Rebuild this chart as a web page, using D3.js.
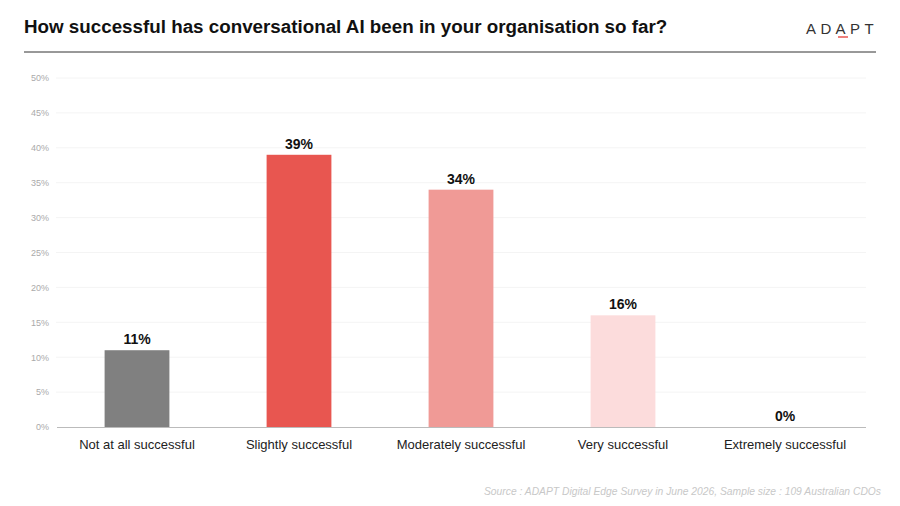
<!DOCTYPE html>
<html>
<head>
<meta charset="utf-8">
<script src="https://cdn.jsdelivr.net/npm/d3@7"></script>
<style>
  body { margin: 0; background: #fff; }
  text { font-family: "Liberation Sans", Arial, sans-serif; }
</style>
</head>
<body>
<div id="viz"></div>
<script>
var categories = ["Not at all successful", "Slightly successful", "Moderately successful", "Very successful", "Extremely successful"];
var values = [11, 39, 34, 16, 0];
var barColors = ["#808080", "#e85650", "#f09a96", "#fcdcdc", "#f4f4f4"];
var yTicks = [0, 5, 10, 15, 20, 25, 30, 35, 40, 45, 50];

var w = 900, h = 506;

var svg = d3.select('#viz')
            .append('svg')
            .attr('width', w)
            .attr('height', h);

// title + logo
svg.append('text')
   .attr('x', 24)
   .attr('y', 33)
   .style('font-size', '18.8px')
   .style('font-weight', 'bold')
   .style('fill', '#111')
   .text('How successful has conversational AI been in your organisation so far?');

svg.append('text')
   .attr('x', 878)
   .attr('y', 34)
   .attr('text-anchor', 'end')
   .style('font-size', '15px')
   .style('letter-spacing', '4.4px')
   .style('fill', '#333')
   .text('ADAPT');

svg.append('line')
   .attr('x1', 838).attr('x2', 848)
   .attr('y1', 37).attr('y2', 37)
   .attr('stroke', '#e85650')
   .attr('stroke-width', 1.5);

svg.append('line')
   .attr('x1', 24).attr('x2', 876)
   .attr('y1', 52).attr('y2', 52)
   .attr('stroke', '#333')
   .attr('stroke-width', 1);

var x = d3.scaleBand()
          .domain(categories)
          .range([56, 866])
          .paddingInner(0.6)
          .paddingOuter(0.3);

var y = d3.scaleLinear()
          .domain([0, 50])
          .range([427, 78]);

// gridlines
svg.append('g')
   .selectAll('line')
   .data(yTicks.filter(d => d > 0))
   .enter()
   .append('line')
   .attr('x1', 56).attr('x2', 866)
   .attr('y1', d => y(d)).attr('y2', d => y(d))
   .attr('stroke', '#f4f4f4')
   .attr('stroke-width', 1);

var yAxis = svg.append('g')
   .attr('transform', 'translate(52,0)')
   .call(d3.axisLeft(y).tickValues(yTicks).tickSize(0).tickFormat(d => d + '%'));
yAxis.select('.domain').remove();
yAxis.selectAll('text')
     .style('font-size', '9px')
     .style('fill', '#aaa')
     .style('font-family', '"Liberation Sans", Arial, sans-serif');

svg.selectAll('rect.bar')
   .data(values)
   .enter()
   .append('rect')
   .attr('class', 'bar')
   .attr('x', (d, i) => x(categories[i]))
   .attr('y', d => y(d))
   .attr('width', x.bandwidth())
   .attr('height', d => y(0) - y(d))
   .attr('fill', (d, i) => barColors[i]);

svg.append('line')
   .attr('x1', 57).attr('x2', 866)
   .attr('y1', y(0) + 0.5).attr('y2', y(0) + 0.5)
   .attr('stroke', '#bbb')
   .attr('stroke-width', 1);

svg.selectAll('text.val')
   .data(values)
   .enter()
   .append('text')
   .attr('class', 'val')
   .attr('x', (d, i) => x(categories[i]) + x.bandwidth() / 2)
   .attr('y', d => y(d) - 6)
   .attr('text-anchor', 'middle')
   .style('font-size', '14px')
   .style('font-weight', 'bold')
   .style('fill', '#111')
   .text(d => d + '%');

var xAxis = svg.append('g')
   .attr('transform', 'translate(0,' + y(0) + ')')
   .call(d3.axisBottom(x).tickSize(0).tickPadding(13));
xAxis.select('.domain').remove();
xAxis.selectAll('text')
     .style('font-size', '13px')
     .style('fill', '#222')
     .style('font-family', '"Liberation Sans", Arial, sans-serif');

svg.append('text')
   .attr('x', 881)
   .attr('y', 495)
   .attr('text-anchor', 'end')
   .style('font-size', '10.3px')
   .style('font-style', 'italic')
   .style('fill', '#c8c8c8')
   .text('Source : ADAPT Digital Edge Survey in June 2026, Sample size : 109 Australian CDOs');
</script>
</body>
</html>
